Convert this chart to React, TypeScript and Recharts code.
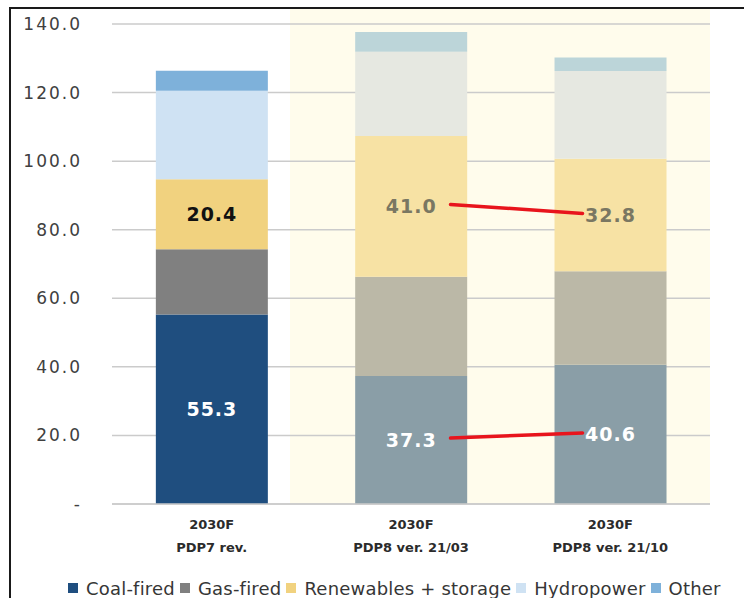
import { BarChart, Bar, XAxis, YAxis, CartesianGrid, LabelList, Cell } from 'recharts';

// Installed capacity by 2030 under each power development plan (GW)
const plans = ['PDP7 rev.', 'PDP8 ver. 21/03', 'PDP8 ver. 21/10'];
const years = ['2030F', '2030F', '2030F'];
const coal = [55.3, 37.3, 40.6];
const gas = [19.0, 29.0, 27.3];
const renewables = [20.4, 41.0, 32.8];
const hydro = [25.8, 24.6, 25.6];
const other = [5.9, 5.8, 3.9];
const yTicks = [0, 20, 40, 60, 80, 100, 120, 140];

const series = [
  { key: 'coal', name: 'Coal-fired', values: coal, color: '#1f4e7f', muted: '#8a9ea7' },
  { key: 'gas', name: 'Gas-fired', values: gas, color: '#808080', muted: '#bbb8a7' },
  { key: 'renewables', name: 'Renewables + storage', values: renewables, color: '#f1d27f', muted: '#f7e2a4' },
  { key: 'hydro', name: 'Hydropower', values: hydro, color: '#cfe2f3', muted: '#e6e8e1' },
  { key: 'other', name: 'Other', values: other, color: '#7eb1da', muted: '#bcd5d9' },
];

const data = plans.map((plan, i) => {
  const row: Record<string, string | number> = { plan };
  series.forEach((s) => {
    row[s.key] = s.values[i];
  });
  return row;
});

const BAR_RATIO = 0.56;
const FONT = '"DejaVu Sans", Verdana, sans-serif';

// stacked total of the series below `seriesIdx` in bar `i`
const baseOf = (seriesIdx: number, i: number) =>
  series.slice(0, seriesIdx).reduce((sum, s) => sum + s.values[i], 0);

function makeValueLabel(seriesIdx: number, colors: string[]) {
  return (props: any) => {
    const vb = props.viewBox ?? props;
    const { x, y, width, height } = vb;
    const index: number = props.index;
    const value = series[seriesIdx].values[index];
    const cx = x + width / 2;
    const cy = y + height / 2;

    let link = null;
    if (index === plans.length - 1) {
      // connect to the same segment of the previous plan
      const ppu = height / value;
      const zeroY = y + height + baseOf(seriesIdx, index) * ppu;
      const prev = series[seriesIdx].values[index - 1];
      const prevCy = zeroY - (baseOf(seriesIdx, index - 1) + prev / 2) * ppu;
      const prevCx = cx - width / BAR_RATIO;
      link = (
        <line
          x1={prevCx + 40}
          y1={prevCy - 2}
          x2={cx - 28}
          y2={cy - 1.5}
          stroke="#e8141c"
          strokeWidth={3.5}
          strokeLinecap="round"
        />
      );
    }

    return (
      <g>
        {link}
        <text
          x={cx}
          y={cy}
          dy="0.36em"
          textAnchor="middle"
          fontFamily={FONT}
          fontWeight="bold"
          fontSize={19}
          letterSpacing={1}
          fill={colors[index]}
        >
          {value.toFixed(1)}
        </text>
      </g>
    );
  };
}

const PlanTick = (props: any) => {
  const { x, y, payload, index } = props;
  return (
    <g transform={`translate(${x},${y})`}>
      <text y={23} textAnchor="middle" fontFamily={FONT} fontWeight="bold" fontSize={13} fill="#2b2b2b">
        {years[index]}
      </text>
      <text y={46} textAnchor="middle" fontFamily={FONT} fontWeight="bold" fontSize={13} fill="#2b2b2b">
        {payload.value}
      </text>
    </g>
  );
};

const labelColors: Record<string, string[]> = {
  coal: ['#ffffff', '#ffffff', '#ffffff'],
  renewables: ['#111111', '#7a7762', '#7a7762'],
};

export default function App() {
  return (
    <div
      style={{
        position: 'fixed',
        left: 0,
        top: 0,
        width: 744,
        height: 598,
        overflow: 'hidden',
        background: '#ffffff',
      }}
    >
      <div
        style={{
          position: 'absolute',
          left: 9,
          top: 7,
          width: 800,
          height: 700,
          borderLeft: '2px solid #1a1a1a',
          borderTop: '2px solid #1a1a1a',
        }}
      />
      <div
        style={{
          position: 'absolute',
          left: 290,
          top: 9,
          width: 420,
          height: 495,
          background: '#fffcec',
        }}
      />
      <div style={{ position: 'absolute', left: 0, top: 0 }}>
        <BarChart
          width={744}
          height={560}
          data={data}
          margin={{ top: 24, right: 34, left: 12, bottom: 0 }}
          barCategoryGap="22%"
        >
          <CartesianGrid vertical={false} stroke="#cbcbcb" strokeWidth={1.5} />
          <XAxis
            dataKey="plan"
            height={56}
            tickLine={false}
            tickSize={0}
            axisLine={{ stroke: '#cbcbcb', strokeWidth: 1.5 }}
            tick={<PlanTick />}
            interval={0}
          />
          <YAxis
            width={100}
            domain={[0, 140]}
            ticks={yTicks}
            axisLine={false}
            tickLine={false}
            tickSize={0}
            tickMargin={30}
            tickFormatter={(v: number) => (v === 0 ? '-' : v.toFixed(1))}
            tick={{ fontFamily: FONT, fontSize: 17, fill: '#404040', letterSpacing: 2 }}
          />
          {series.map((s, si) => (
            <Bar key={s.key} dataKey={s.key} name={s.name} stackId="cap" isAnimationActive={false}>
              {data.map((_, i) => (
                <Cell key={i} fill={i === 0 ? s.color : s.muted} />
              ))}
              {labelColors[s.key] && (
                <LabelList dataKey={s.key} content={makeValueLabel(si, labelColors[s.key])} />
              )}
            </Bar>
          ))}
        </BarChart>
      </div>
      <div
        style={{
          position: 'absolute',
          left: 68,
          top: 578,
          height: 20,
          display: 'flex',
          alignItems: 'center',
          whiteSpace: 'nowrap',
          fontFamily: FONT,
          fontSize: 18,
          letterSpacing: 0.2,
          color: '#363636',
        }}
      >
        {series.map((s) => (
          <span key={s.key} style={{ display: 'flex', alignItems: 'center', marginRight: 5 }}>
            <span style={{ width: 10, height: 10, background: s.color, marginRight: 8 }} />
            {s.name}
          </span>
        ))}
      </div>
    </div>
  );
}
